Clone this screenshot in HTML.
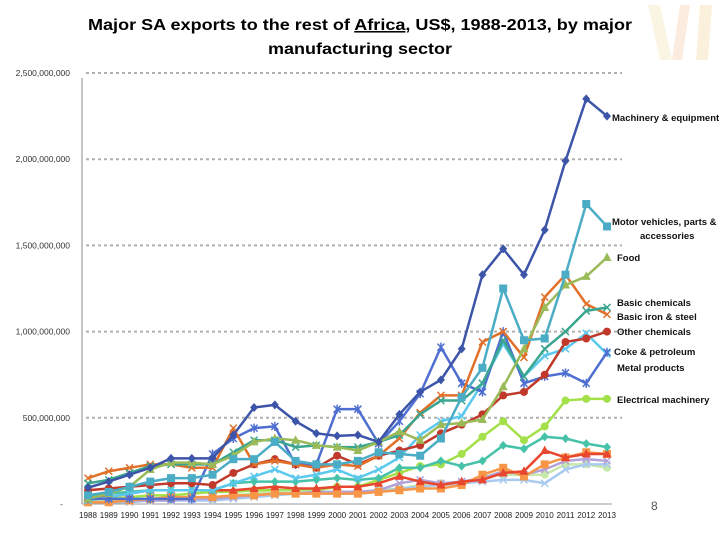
<!DOCTYPE html>
<html><head><meta charset="utf-8"><style>
body{margin:0;background:#fff;}
svg{display:block;font-family:"Liberation Sans",Arial,sans-serif;}
</style></head><body>
<svg id="chart" width="720" height="540" viewBox="0 0 720 540">
<g opacity="0.35">
<polygon points="648,5 660,5 672,60 660,60" fill="#f3e2b0"/>
<polygon points="680,5 690,5 682,60 672,60" fill="#f7c9a8"/>
<polygon points="700,5 712,5 708,60 696,60" fill="#f5d79a"/>
</g>
<text x="360" y="30" text-anchor="middle" font-size="15.5" font-weight="bold" textLength="544" lengthAdjust="spacingAndGlyphs">Major SA exports to the rest of <tspan text-decoration="underline">Africa</tspan>, US$, 1988-2013, by major</text>
<text x="360" y="54" text-anchor="middle" font-size="15.5" font-weight="bold" textLength="184" lengthAdjust="spacingAndGlyphs">manufacturing sector</text>
<g id="grid"></g><g id="series"></g><g id="labels"></g>
<text x="651" y="510" font-size="12" fill="#555">8</text>
</svg>
<script>
const years=[1988,1989,1990,1991,1992,1993,1994,1995,1996,1997,1998,1999,2000,2001,2002,2003,2004,2005,2006,2007,2008,2009,2010,2011,2012,2013];
const yTicks=[0,500,1000,1500,2000,2500];
const yTickLabels=["-","500,000,000","1,000,000,000","1,500,000,000","2,000,000,000","2,500,000,000"];
const machinery=[95,130,170,210,265,265,265,400,560,575,480,410,395,400,360,520,650,720,900,1330,1480,1330,1590,1990,2350,2250];
const motorVehicles=[50,70,100,130,150,150,170,260,260,360,250,230,230,250,300,290,280,380,620,790,1250,950,960,1330,1740,1610];
const food=[30,60,100,200,240,240,230,280,360,380,370,340,330,310,360,420,370,460,470,490,680,900,1140,1270,1320,1430];
const basicChem=[120,140,180,220,230,230,230,300,370,370,330,340,330,330,360,400,520,600,600,700,950,740,900,1000,1120,1140];
const ironSteel=[150,190,210,230,230,210,210,440,230,250,230,210,230,220,280,380,530,630,630,940,1000,850,1200,1330,1160,1100];
const otherChem=[80,90,100,110,120,120,110,180,230,260,230,210,280,230,280,310,340,410,460,520,630,650,750,940,960,1000];
const coke=[30,30,30,30,30,30,290,380,440,450,230,230,550,550,350,480,640,910,700,650,1000,700,740,760,700,880];
const metal=[20,40,60,80,80,80,80,120,160,200,150,170,200,150,200,270,400,480,510,700,930,740,860,900,990,870];
const electrical=[20,30,40,50,50,60,70,70,80,80,80,80,100,100,140,180,220,230,290,390,480,370,450,600,610,610];
const tealDiamond=[50,60,70,80,80,80,80,120,130,130,130,140,150,140,150,210,210,250,220,250,340,320,390,380,350,330];
const redTriangle=[40,40,60,80,80,80,80,80,90,100,90,90,100,100,120,160,130,110,130,140,180,190,310,270,290,290];
const orangeSquare=[10,10,20,30,40,40,40,50,50,60,60,60,60,60,70,80,90,90,110,170,210,160,230,270,300,290];
const purpleX=[10,10,20,20,20,30,30,40,50,60,60,70,70,70,80,120,140,120,130,150,190,170,200,250,260,250];
const lightBlue=[10,10,10,20,20,20,20,30,40,50,60,60,60,60,70,90,100,110,120,130,140,140,120,200,230,230];
const mint=[20,20,20,20,20,30,30,50,60,70,70,70,70,70,80,90,110,120,120,160,170,170,170,230,230,210];
const seriesList=[
 ["series-electrical",electrical,"#a3e04a","circle"],
 ["series-mint",mint,"#c6e8a8","circle"],
 ["series-light-blue",lightBlue,"#a9c9ef","x"],
 ["series-purple",purpleX,"#b3a2d7","x"],
 ["series-orange-square",orangeSquare,"#f79646","square"],
 ["series-red-triangle",redTriangle,"#e8462f","triangle"],
 ["series-teal-diamond",tealDiamond,"#45c2a8","diamond"],
 ["series-metal",metal,"#5bc8ee","x"],
 ["series-coke",coke,"#4f6fd0","star"],
 ["series-other-chem",otherChem,"#c0392b","circle"],
 ["series-iron-steel",ironSteel,"#e0702a","x"],
 ["series-basic-chem",basicChem,"#3aa68f","x"],
 ["series-food",food,"#9bbb59","triangle"],
 ["series-motor",motorVehicles,"#4bacc6","square"],
 ["series-machinery",machinery,"#3d55a8","diamond"]];
const labelNames=[["Machinery & equipment",612,121],["Motor vehicles, parts &",612,225],["accessories",640,239],["Food",617,261],["Basic chemicals",617,306],["Basic iron & steel",617,320],["Other chemicals",617,335],["Coke & petroleum",614,355],["Metal products",617,371],["Electrical machinery",617,403]];
const NS="http://www.w3.org/2000/svg";
const x0=88,x1=607,yBase=504,yTop=73,vMax=2500;
const xs=i=>x0+i*(x1-x0)/(years.length-1);
const ys=v=>yBase-v/vMax*(yBase-yTop);
function mk(tag,attrs,parent){const e=document.createElementNS(NS,tag);for(const k in attrs)e.setAttribute(k,attrs[k]);parent.appendChild(e);return e;}
const grid=document.getElementById('grid');
const ax=mk('line',{x1:82,y1:yTop+5,x2:82,y2:yBase,stroke:'#888'},grid);


yTicks.forEach((t,i)=>{
 if(t>0){const g=mk('line',{x1:86,x2:622,y1:ys(t),y2:ys(t),stroke:'#b0b0b0','stroke-width':2,'stroke-dasharray':'3,3'},grid);
 
 }
 const tx=mk('text',{x:t>0?70:63,y:ys(t)+3,'text-anchor':'end','font-size':8.5,fill:'#333'},grid);
 tx.textContent=yTickLabels[i];
 
 
});
mk('line',{x1:82,x2:612,y1:yBase,y2:yBase,stroke:'#999'},grid);
years.forEach((y,i)=>{
 const tx=mk('text',{x:xs(i),y:518,'text-anchor':'middle','font-size':8,fill:'#222',textLength:18,lengthAdjust:'spacingAndGlyphs'},grid);
 tx.textContent=y;
 
 
});
const sg=document.getElementById('series');
seriesList.forEach(([name,vals,col,m])=>{
 const g=mk('g',{},sg);
 
 
 mk('polyline',{points:vals.map((v,i)=>xs(i)+','+ys(v)).join(' '),fill:'none',stroke:col,'stroke-width':2.5,'stroke-linejoin':'round'},g);
 vals.forEach((v,i)=>{
  const cx=xs(i),cy=ys(v);let e;
  if(m==='circle')e=mk('circle',{cx,cy,r:4,fill:col},g);
  else if(m==='square')e=mk('rect',{x:cx-4,y:cy-4,width:8,height:8,fill:col},g);
  else if(m==='triangle')e=mk('polygon',{points:`${cx},${cy-5} ${cx+4.5},${cy+3.5} ${cx-4.5},${cy+3.5}`,fill:col},g);
  else if(m==='diamond')e=mk('polygon',{points:`${cx},${cy-4.5} ${cx+4},${cy} ${cx},${cy+4.5} ${cx-4},${cy}`,fill:col},g);
  else e=mk('path',{d:`M${cx-3.5},${cy-3.5}L${cx+3.5},${cy+3.5}M${cx+3.5},${cy-3.5}L${cx-3.5},${cy+3.5}`+(m==='star'?`M${cx},${cy-4.5}L${cx},${cy+4.5}`:''),stroke:col,'stroke-width':1.5,fill:'none'},g);
  
  
 });
});
const lg=document.getElementById('labels');
labelNames.forEach(([t,x,y])=>{
 const tx=mk('text',{x,y,'font-size':9.5,'font-weight':'bold',fill:'#111'},lg);
 tx.textContent=t;
 
 
});
</script>
</body></html>
